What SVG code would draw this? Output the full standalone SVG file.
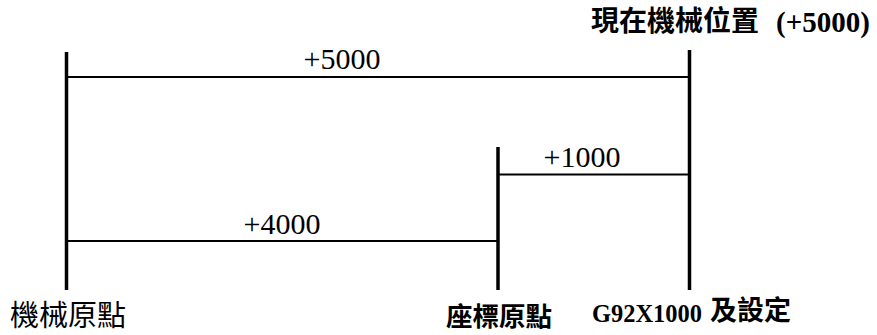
<svg xmlns="http://www.w3.org/2000/svg" width="877" height="335" viewBox="0 0 877 335">
<style>
.v{stroke:#000;stroke-width:3.5;fill:none}
.h{stroke:#000;stroke-width:1.8;fill:none}
.num{font-family:'Liberation Serif',serif;font-size:30px;font-weight:normal;fill:#000}
.ser{font-family:'Liberation Serif',serif;font-weight:bold;fill:#000}
.cjk{font-family:'Noto Sans CJK TC','Noto Sans CJK SC',sans-serif;fill:#000}
.b{font-weight:bold}
</style>
<rect width="877" height="335" fill="#fff"/>
<g id="connectors">
<line class="h" x1="66" y1="77" x2="689" y2="77"/>
<line class="h" x1="498" y1="174.5" x2="689" y2="174.5"/>
<line class="h" x1="66" y1="241" x2="498" y2="241"/>
</g>
<g id="machine-origin">
<line class="v" x1="66.5" y1="52" x2="66.5" y2="290"/>
<text class="cjk" x="10" y="326" font-size="29">機械原點</text>
</g>
<g id="coord-origin">
<line class="v" x1="498" y1="147" x2="498" y2="290"/>
<text class="cjk b" x="446" y="326" font-size="26.5">座標原點</text>
</g>
<g id="current-pos">
<line class="v" x1="689.5" y1="50" x2="689.5" y2="290"/>
<text class="cjk b" x="591" y="31" font-size="28">現在機械位置</text>
<text class="ser" x="776" y="32" font-size="29">(+5000)</text>
<text class="ser" x="592" y="322" font-size="26" textLength="110" lengthAdjust="spacingAndGlyphs">G92X1000</text>
<text class="cjk b" x="710" y="320" font-size="27">及設定</text>
</g>
<g id="labels">
<text class="num" x="342" y="69" text-anchor="middle">+5000</text>
<text class="num" x="582" y="167" text-anchor="middle">+1000</text>
<text class="num" x="282" y="234" text-anchor="middle">+4000</text>
</g>
</svg>
